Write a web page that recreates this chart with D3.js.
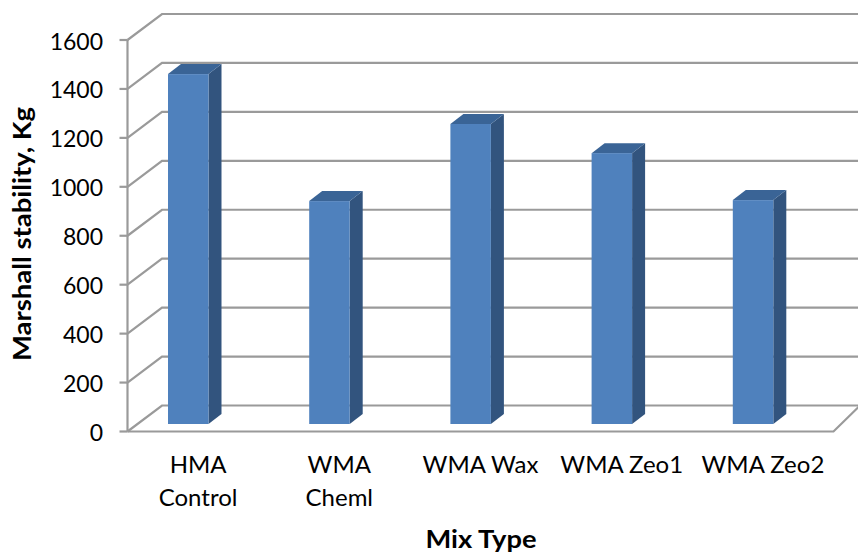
<!DOCTYPE html>
<html>
<head>
<meta charset="utf-8">
<script src="https://cdn.jsdelivr.net/npm/d3@7"></script>
<style>
html,body{margin:0;padding:0;background:#fff}
svg{display:block}
text{font-family:Lato,"Open Sans",sans-serif;fill:#000}
</style>
</head>
<body>
<svg id="chart" width="858" height="553"></svg>
<script>
const categories = [["HMA","Control"],["WMA","Cheml"],["WMA Wax"],["WMA Zeo1"],["WMA Zeo2"]];
const stability = [1430, 911, 1226, 1107, 915];
const tickValues = [0,200,400,600,800,1000,1200,1400,1600];
const yTitle = "Marshall stability, Kg";
const xTitle = "Mix Type";

const svg = d3.select("#chart");
const width = 858, height = 553;
const gridCol = "#9a9a9a", front = "#4f81bd", side = "#32547e", top_ = "#3a6496";

// Oblique projection of the plot box
const left = 127.5, right = 833.5, y0 = 431.5, y1 = 40;
const wallDx = 34.5, wallDy = -26;
const barDx = 13, barDy = -10, barLift = -7.5;

const y = d3.scaleLinear().domain([0,1600]).range([y0,y1]);
const x = d3.scaleBand().domain(d3.range(categories.length)).range([left,right]);
const barW = 40.5, barInset = 40.5;

const grid = svg.append("g").attr("fill","none").attr("stroke",gridCol).attr("stroke-width",2.2);
tickValues.forEach(t=>{
  grid.append("path").attr("d",d3.line()([
    [left,y(t)],[left+wallDx,y(t)+wallDy],[width+2,y(t)+wallDy]
  ]));
});
// Floor front edge and the rising right edge
grid.append("path").attr("d",d3.line()([[left,y0],[right,y0],[Math.min(width+2,right+wallDx),y0+wallDy]]));

// Vertical axis with outside ticks
grid.append("path").attr("d",d3.line()([[left,y1],[left,y0]]));
tickValues.forEach(t=>{
  grid.append("line").attr("x1",left-8).attr("x2",left).attr("y1",y(t)).attr("y2",y(t));
});

const tickG = svg.append("g").attr("font-size",23).attr("text-anchor","end");
tickValues.forEach(t=>{
  tickG.append("text").attr("x",103).attr("y",y(t)+9.5).text(t);
});

// Bars: side face, top face, front face
const bars = svg.append("g").selectAll("g").data(stability).join("g");
const base = y0 + barLift;
const h = d => y(0)-y(d);
bars.append("path").attr("fill",side).attr("d",(d,i)=>{
  const a=x(i)+barInset+barW, t=base-h(d);
  return d3.line()([[a,base],[a+barDx,base+barDy],[a+barDx,t+barDy],[a,t]])+"Z";
});
bars.append("path").attr("fill",top_).attr("d",(d,i)=>{
  const a=x(i)+barInset, t=base-h(d);
  return d3.line()([[a,t],[a+barDx,t+barDy],[a+barW+barDx,t+barDy],[a+barW,t]])+"Z";
});
bars.append("rect").attr("fill",front)
  .attr("x",(d,i)=>x(i)+barInset).attr("width",barW)
  .attr("y",d=>base-h(d)).attr("height",d=>h(d));

const catG = svg.append("g").attr("font-size",24).attr("text-anchor","middle");
categories.forEach((lines,i)=>{
  const cx = x(i)+x.bandwidth()/2;
  lines.forEach((l,j)=>{
    catG.append("text").attr("x",cx).attr("y",473+j*33).text(l);
  });
});

svg.append("text").attr("x",481).attr("y",548).attr("text-anchor","middle")
  .attr("font-size",25).attr("font-weight",700)
  .attr("textLength",111).attr("lengthAdjust","spacingAndGlyphs").text(xTitle);
svg.append("text").attr("transform","translate(31,234) rotate(-90)").attr("text-anchor","middle")
  .attr("font-size",25).attr("font-weight",700)
  .attr("textLength",254).attr("lengthAdjust","spacingAndGlyphs").text(yTitle);
</script>
</body>
</html>
